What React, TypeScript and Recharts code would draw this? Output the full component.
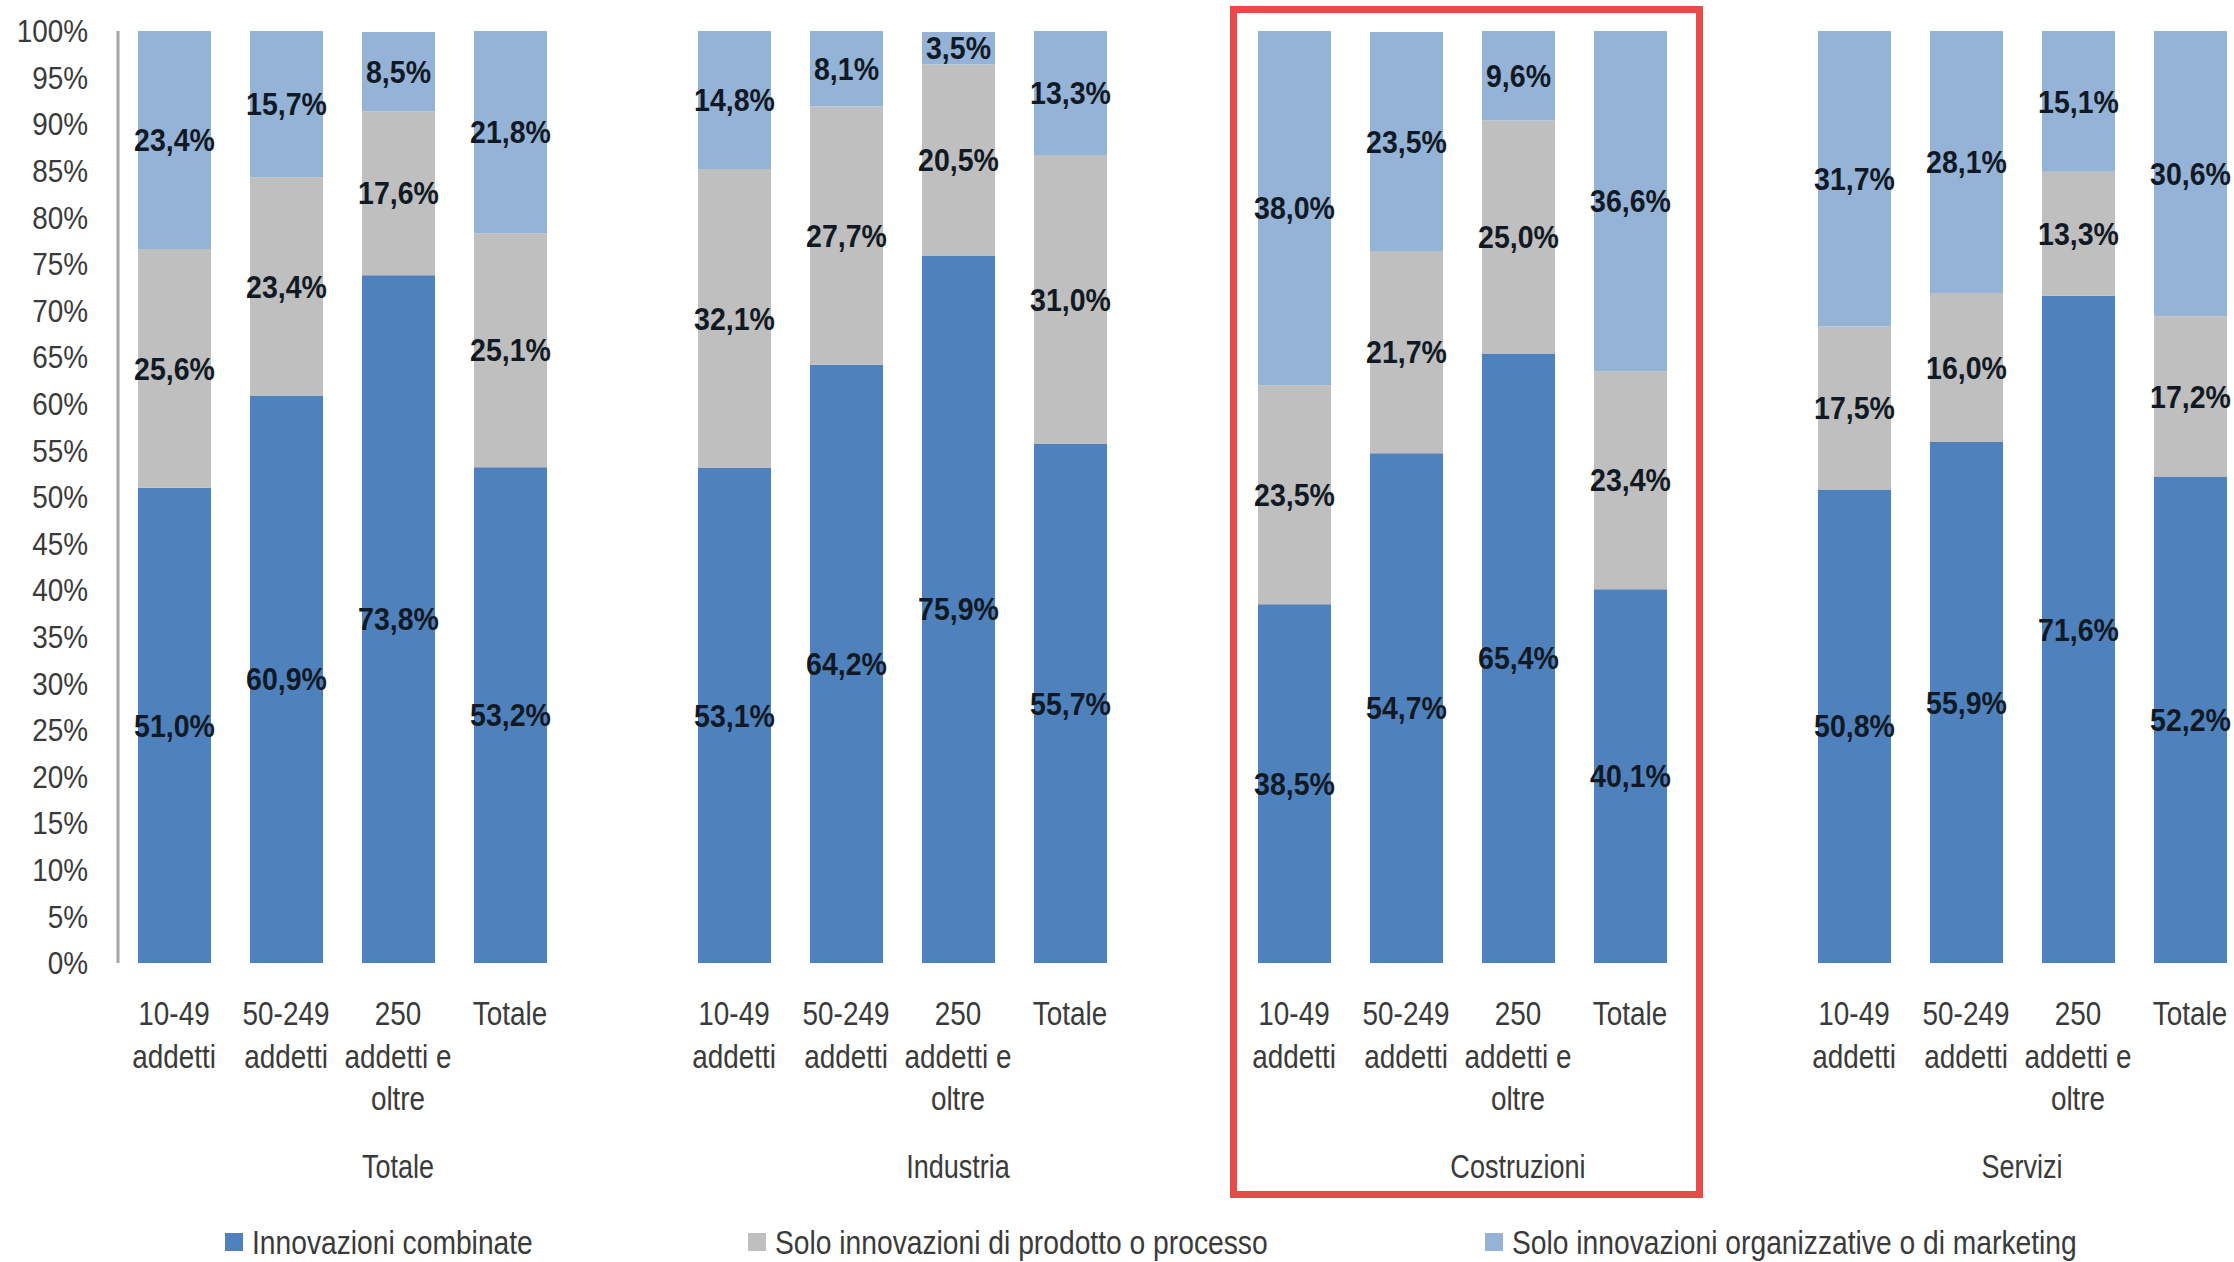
import * as React from 'react';
import { BarChart, Bar, XAxis, YAxis, LabelList } from 'recharts';

// sectors and firm-size classes
const groups = ['Totale', 'Industria', 'Costruzioni', 'Servizi'];
const classes = ['10-49\naddetti', '50-249\naddetti', '250\naddetti e\noltre', 'Totale'];

// shares (%) per bar, in order: 4 classes for each sector
const combinate = [51.0, 60.9, 73.8, 53.2, 53.1, 64.2, 75.9, 55.7, 38.5, 54.7, 65.4, 40.1, 50.8, 55.9, 71.6, 52.2];
const prodotto = [25.6, 23.4, 17.6, 25.1, 32.1, 27.7, 20.5, 31.0, 23.5, 21.7, 25.0, 23.4, 17.5, 16.0, 13.3, 17.2];
const organizzative = [23.4, 15.7, 8.5, 21.8, 14.8, 8.1, 3.5, 13.3, 38.0, 23.5, 9.6, 36.6, 31.7, 28.1, 15.1, 30.6];

const seriesNames = [
  'Innovazioni combinate',
  'Solo innovazioni di prodotto o processo',
  'Solo innovazioni organizzative o di marketing',
];
const yTicks = [0, 5, 10, 15, 20, 25, 30, 35, 40, 45, 50, 55, 60, 65, 70, 75, 80, 85, 90, 95, 100];

const COLORS = ['#4f81bd', '#bfbfbf', '#95b3d7'];
const FONT = "'Liberation Sans', Arial, sans-serif";
const TEXT = '#3a3a3a';

const CHART_W = 2300;
const CHART_H = 1262;
const MARGIN = { top: 31, right: 54, bottom: 0, left: 0 };
const Y_AXIS_W = 118;
const X_AXIS_H = 299;
const LEGEND_X = [225, 748, 1485];

type Row = {
  key: string;
  label: string;
  group: string;
  groupStart?: boolean;
  comb?: number;
  prod?: number;
  org?: number;
};

// one empty slot after each sector, as in the category layout
const rows: Row[] = [];
groups.forEach((g, gi) => {
  classes.forEach((c, ci) => {
    const i = gi * classes.length + ci;
    rows.push({
      key: `${g}-${ci}`,
      label: c,
      group: g,
      groupStart: ci === 0,
      comb: combinate[i],
      prod: prodotto[i],
      org: organizzative[i],
    });
  });
  if (gi < groups.length - 1) rows.push({ key: `${g}-gap`, label: '', group: g });
});

const groupSize = (g: string) => rows.filter((r) => r.group === g).length;
const SLOT = (CHART_W - MARGIN.left - MARGIN.right - Y_AXIS_W) / rows.length;

const fmt = (v: any) => `${Number(v).toFixed(1).replace('.', ',')}%`;

// condensed text: the narrow face is drawn by squeezing Liberation Sans horizontally
function Narrow({ x, y, sx = 0.82, anchor = 'middle', size = 34, weight = 'normal', fill = TEXT, dy = 0, children }: any) {
  return (
    <text
      transform={`translate(${x} ${y}) scale(${sx} 1)`}
      x={0}
      y={0}
      dy={dy}
      textAnchor={anchor}
      fontFamily={FONT}
      fontSize={size}
      fontWeight={weight}
      fill={fill}
    >
      {children}
    </text>
  );
}

function CategoryTick(props: any) {
  const { x, y, index } = props;
  const row = rows[index];
  if (!row) return null;
  const lines = row.label ? row.label.split('\n') : [];
  return (
    <g>
      {lines.map((l, i) => (
        <Narrow key={i} x={x} y={y + 62 + i * 42.5}>
          {l}
        </Narrow>
      ))}
      {row.groupStart && (
        <Narrow x={x + ((groupSize(row.group) - 1) / 2) * SLOT} y={y + 215} size={33}>
          {row.group}
        </Narrow>
      )}
    </g>
  );
}

function PercentTick(props: any) {
  const { x, y, payload } = props;
  return (
    <Narrow x={x} y={y} anchor="end" size={31} sx={0.9} dy="0.36em">
      {`${payload.value}%`}
    </Narrow>
  );
}

function SegmentLabel(props: any) {
  const { x, y, width, height, value } = props;
  if (value == null || Number.isNaN(Number(value))) return null;
  return (
    <Narrow
      x={Number(x) + Number(width) / 2}
      y={Number(y) + Number(height) / 2}
      size={31}
      sx={0.92}
      weight="bold"
      fill="#111a24"
      dy="0.36em"
    >
      {fmt(value)}
    </Narrow>
  );
}

export default function App() {
  return (
    <div
      style={{
        position: 'absolute',
        left: 0,
        top: 0,
        width: 2234,
        height: 1262,
        overflow: 'hidden',
        background: '#fff',
        fontFamily: FONT,
      }}
    >
      <BarChart width={CHART_W} height={CHART_H} data={rows} margin={MARGIN} barSize={73}>
        <XAxis
          dataKey="key"
          interval={0}
          axisLine={false}
          tickLine={false}
          tickSize={0}
          tickMargin={0}
          height={X_AXIS_H}
          tick={<CategoryTick />}
        />
        <YAxis
          type="number"
          domain={[0, 100]}
          allowDataOverflow
          ticks={yTicks}
          interval={0}
          width={Y_AXIS_W}
          tickLine={false}
          tickSize={0}
          tickMargin={30}
          axisLine={{ stroke: '#a6a6a6', strokeWidth: 3 }}
          tick={<PercentTick />}
        />
        <Bar dataKey="comb" stackId="s" fill={COLORS[0]} isAnimationActive={false}>
          <LabelList dataKey="comb" content={<SegmentLabel />} />
        </Bar>
        <Bar dataKey="prod" stackId="s" fill={COLORS[1]} isAnimationActive={false}>
          <LabelList dataKey="prod" content={<SegmentLabel />} />
        </Bar>
        <Bar dataKey="org" stackId="s" fill={COLORS[2]} isAnimationActive={false}>
          <LabelList dataKey="org" content={<SegmentLabel />} />
        </Bar>
      </BarChart>

      {/* highlight around the Costruzioni block */}
      <div
        style={{
          position: 'absolute',
          left: 1230,
          top: 6,
          width: 473,
          height: 1192,
          border: '7px solid #e84b47',
          boxSizing: 'border-box',
        }}
      />

      {seriesNames.map((name, i) => (
        <div
          key={name}
          style={{
            position: 'absolute',
            left: LEGEND_X[i],
            top: 1222,
            height: 40,
            display: 'flex',
            alignItems: 'center',
            whiteSpace: 'nowrap',
            fontSize: 34,
            color: TEXT,
          }}
        >
          <span style={{ width: 18, height: 18, background: COLORS[i], display: 'inline-block', marginRight: 9 }} />
          <span style={{ display: 'inline-block', transform: 'scaleX(0.83)', transformOrigin: 'left center' }}>{name}</span>
        </div>
      ))}
    </div>
  );
}
